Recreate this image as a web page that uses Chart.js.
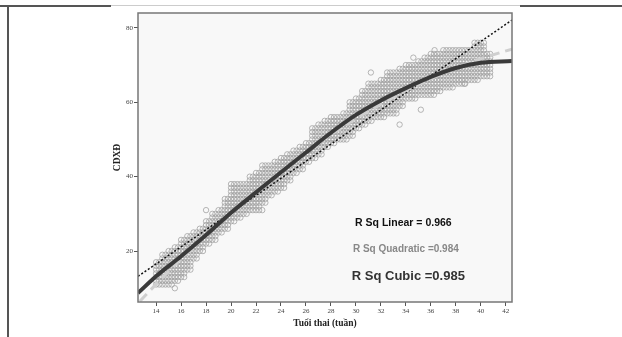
<!DOCTYPE html>
<html>
<head>
<meta charset="utf-8">
<script src="https://cdn.jsdelivr.net/npm/chart.js@4.4.1/dist/chart.umd.min.js"></script>
<style>
  html, body { margin: 0; padding: 0; background: #fff; }
  #wrap { position: relative; width: 622px; height: 337px; overflow: hidden; }
  .rule { position: absolute; }
  canvas { position: absolute; left: 0; top: 0; }
</style>
</head>
<body>
<div id="wrap">
  <div class="rule" style="left:0;top:5px;width:111px;height:2px;background:#555"></div>
  <div class="rule" style="left:111px;top:5px;width:409px;height:1px;background:#ccc"></div>
  <div class="rule" style="left:520px;top:5px;width:102px;height:2px;background:#555"></div>
  <div class="rule" style="left:7px;top:5px;width:2px;height:332px;background:#555"></div>
  <canvas id="myChart" width="622" height="337"></canvas>
</div>
<script>
// tick labels
var xTicks = [14, 16, 18, 20, 22, 24, 26, 28, 30, 32, 34, 36, 38, 40, 42]
var yTicks = [20, 40, 60, 80]

// scatter cloud, read per half-week column: lowest and highest CDXD
var cloudX    = [14, 14.5, 15, 15.5, 16, 16.5, 17, 17.5, 18, 18.5, 19, 19.5, 20, 20.5, 21, 21.5, 22, 22.5,
                 23, 23.5, 24, 24.5, 25, 25.5, 26, 26.5, 27, 27.5, 28, 28.5, 29, 29.5, 30, 30.5, 31, 31.5,
                 32, 32.5, 33, 33.5, 34, 34.5, 35, 35.5, 36, 36.5, 37, 37.5, 38, 38.5, 39, 39.5, 40, 40.5]
var cloudLow  = [11, 11, 11, 12, 13, 15, 18, 20, 22, 23, 25, 26, 28, 29, 30, 31, 31, 33,
                 35, 36, 37, 39, 41, 42, 44, 45, 46, 48, 49, 50, 50, 51, 53, 54, 55, 56,
                 56, 57, 57, 59, 61, 61, 62, 62, 62, 63, 64, 64, 65, 65, 66, 66, 67, 67]
var cloudHigh = [17, 19, 20, 21, 23, 24, 25, 26, 28, 30, 31, 34, 38, 38, 38, 40, 41, 43,
                 43, 44, 45, 46, 47, 48, 49, 53, 54, 55, 56, 56, 57, 60, 61, 63, 65, 65,
                 66, 68, 68, 69, 70, 70, 71, 72, 73, 73, 74, 74, 74, 74, 74, 76, 76, 73]
// a few stray points
var strayX = [18, 22.5, 15.5, 33.5, 35.2, 38.7, 31.2, 34.6, 36.3]
var strayY = [31, 31, 10, 54, 58, 65, 68, 72, 74]

// fitted curves
var fitX      = [12.55, 14, 16, 18, 20, 22, 24, 26, 28, 30, 32, 34, 36, 38, 40, 42.5]
var cubicY    = [8.7, 13.2, 18.6, 24.3, 30.3, 35.8, 41.2, 46.5, 51.8, 56.6, 60.5, 63.8, 66.8, 69.2, 70.6, 71.1]
var quadX     = [12.7, 14, 16, 18, 20, 22, 24, 26, 28, 30, 32, 34, 36, 38, 40, 42.5]
var quadY     = [6.5, 11.1, 17.9, 24.4, 30.5, 36.2, 41.6, 46.6, 51.3, 55.6, 59.5, 63.1, 66.3, 69.2, 71.7, 74.3]
var linX      = [12.55, 42.5]
var linY      = [13.2, 82.1]

var notes = [
  { text: 'R Sq Linear = 0.966', x: 33.8, y: 27.6, size: 10.5, color: '#111' },
  { text: 'R Sq Quadratic =0.984', x: 34.0, y: 20.6, size: 10, color: '#888' },
  { text: 'R Sq Cubic =0.985', x: 34.2, y: 13.1, size: 13, color: '#333' }
]

var cloud = []
for (var i = 0; i < cloudX.length; i++) {
  for (var v = cloudLow[i]; v <= cloudHigh[i]; v++) {
    cloud.push({ x: cloudX[i], y: v })
    cloud.push({ x: cloudX[i] + 0.25, y: v })
  }
}
for (var k = 0; k < strayX.length; k++) cloud.push({ x: strayX[k], y: strayY[k] })

function pts(xs, ys) { return xs.map(function (x, i) { return { x: x, y: ys[i] } }) }

var frame = {
  id: 'frame',
  beforeDraw: function (chart) {
    var a = chart.chartArea, ctx = chart.ctx
    ctx.save()
    ctx.fillStyle = '#f8f8f8'
    ctx.fillRect(a.left, a.top, a.right - a.left, a.bottom - a.top)
    ctx.restore()
  },
  afterDraw: function (chart) {
    var a = chart.chartArea, ctx = chart.ctx
    ctx.save()
    ctx.strokeStyle = '#777'
    ctx.lineWidth = 1.5
    ctx.strokeRect(a.left, a.top, a.right - a.left, a.bottom - a.top)
    ctx.textAlign = 'center'
    ctx.textBaseline = 'middle'
    notes.forEach(function (n) {
      ctx.font = 'bold ' + n.size + 'px "Liberation Sans", Arial, sans-serif'
      ctx.fillStyle = n.color
      ctx.fillText(n.text, chart.scales.x.getPixelForValue(n.x), chart.scales.y.getPixelForValue(n.y))
    })
    ctx.restore()
  }
}

var serif = '"Liberation Serif", "Times New Roman", serif'

new Chart(document.getElementById('myChart'), {
  type: 'scatter',
  data: {
    datasets: [
      { data: cloud, pointRadius: 2.7, borderWidth: 0.8, borderColor: '#a3a3a3', backgroundColor: 'transparent', order: 4 },
      { data: pts(linX, linY), showLine: true, pointRadius: 0, borderColor: '#111', borderWidth: 1.5, borderDash: [2, 2], order: 3 },
      { data: pts(quadX, quadY), showLine: true, pointRadius: 0, borderColor: '#cfcfcf', borderWidth: 3, borderDash: [10, 6], cubicInterpolationMode: 'monotone', order: 2 },
      { data: pts(fitX, cubicY), showLine: true, pointRadius: 0, borderColor: '#3a3a3a', borderWidth: 4, cubicInterpolationMode: 'monotone', order: 1 }
    ]
  },
  options: {
    responsive: false,
    animation: false,
    layout: { padding: { left: 108, top: 13, right: 110, bottom: 5 } },
    plugins: { legend: { display: false }, tooltip: { enabled: false } },
    scales: {
      x: {
        type: 'linear', min: 12.55, max: 42.5,
        afterBuildTicks: function (s) { s.ticks = xTicks.map(function (v) { return { value: v } }) },
        afterFit: function (s) { s.height = 30 },
        grid: { drawOnChartArea: false, tickLength: 4, color: '#555' },
        border: { display: false },
        ticks: { font: { family: serif, size: 7 }, color: '#444', padding: 1, maxRotation: 0 },
        title: { display: true, text: 'Tuổi thai (tuần)', font: { family: serif, size: 9.5, weight: 'bold' }, color: '#222', padding: { top: 0, bottom: 3 } }
      },
      y: {
        type: 'linear', min: 6.3, max: 84,
        afterBuildTicks: function (s) { s.ticks = yTicks.map(function (v) { return { value: v } }) },
        afterFit: function (s) { s.width = 30 },
        grid: { drawOnChartArea: false, tickLength: 4, color: '#555' },
        border: { display: false },
        ticks: { font: { family: serif, size: 7 }, color: '#444', padding: 1 },
        title: { display: true, text: 'CDXĐ', font: { family: serif, size: 9.5, weight: 'bold' }, color: '#222', padding: { top: 4, bottom: 0 } }
      }
    }
  },
  plugins: [frame]
})
</script>
</body>
</html>
